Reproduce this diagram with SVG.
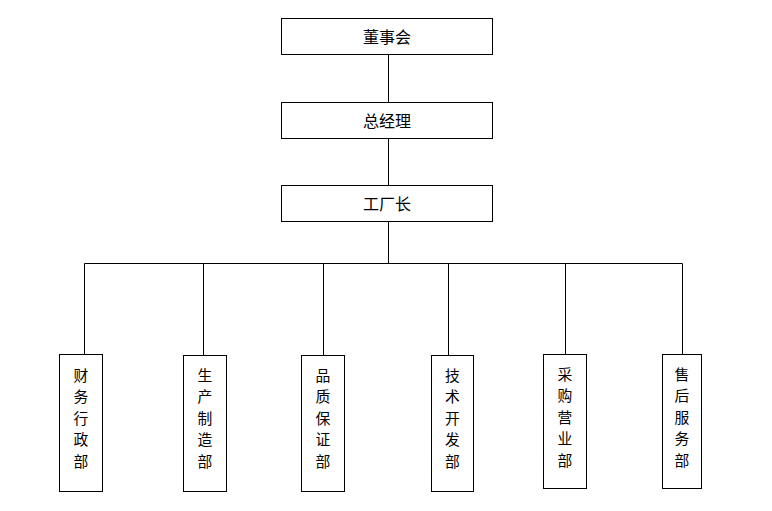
<svg xmlns="http://www.w3.org/2000/svg" width="772" height="511" viewBox="0 0 772 511">
<style>
rect{fill:#fff;stroke:#000;stroke-width:1}
.c line{stroke:#000;stroke-width:1}
text{font-family:"Noto Sans CJK SC","Noto Sans CJK JP",sans-serif;font-size:16px;fill:#000;text-anchor:middle}
text.v{font-size:14.8px}
</style>
<rect x="0" y="0" width="772" height="511" style="stroke:none"/>
<g class="c" id="connectors">
<line x1="388.5" y1="54" x2="388.5" y2="102"/>
<line x1="388.5" y1="138" x2="388.5" y2="185"/>
<line x1="388.5" y1="221" x2="388.5" y2="263.5"/>
<line x1="84.5" y1="263.5" x2="682.5" y2="263.5"/>
<line x1="84.5" y1="263.5" x2="84.5" y2="354"/>
<line x1="203.5" y1="263.5" x2="203.5" y2="355"/>
<line x1="323.5" y1="263.5" x2="323.5" y2="355"/>
<line x1="448.5" y1="263.5" x2="448.5" y2="355"/>
<line x1="565.5" y1="263.5" x2="565.5" y2="354"/>
<line x1="682.5" y1="263.5" x2="682.5" y2="354"/>
</g>
<g id="n1"><rect x="281.5" y="18.5" width="211" height="36"/><text x="387" y="43">董事会</text></g>
<g id="n2"><rect x="281.5" y="102.5" width="211" height="36"/><text x="387" y="127">总经理</text></g>
<g id="n3"><rect x="281.5" y="185.5" width="211" height="36"/><text x="387" y="210">工厂长</text></g>
<g id="d1"><rect x="59.5" y="354.5" width="43" height="137"/><text class="v" x="81"><tspan x="81" y="380.5">财</tspan><tspan x="81" y="402">务</tspan><tspan x="81" y="423.5">行</tspan><tspan x="81" y="445">政</tspan><tspan x="81" y="466.5">部</tspan></text></g>
<g id="d2"><rect x="183.5" y="355.5" width="43" height="136"/><text class="v" x="205"><tspan x="205" y="380.5">生</tspan><tspan x="205" y="402">产</tspan><tspan x="205" y="423.5">制</tspan><tspan x="205" y="445">造</tspan><tspan x="205" y="466.5">部</tspan></text></g>
<g id="d3"><rect x="301.5" y="355.5" width="43" height="136"/><text class="v" x="323"><tspan x="323" y="380.5">品</tspan><tspan x="323" y="402">质</tspan><tspan x="323" y="423.5">保</tspan><tspan x="323" y="445">证</tspan><tspan x="323" y="466.5">部</tspan></text></g>
<g id="d4"><rect x="431.5" y="355.5" width="42" height="136"/><text class="v" x="452.5"><tspan x="452.5" y="380.5">技</tspan><tspan x="452.5" y="402">术</tspan><tspan x="452.5" y="423.5">开</tspan><tspan x="452.5" y="445">发</tspan><tspan x="452.5" y="466.5">部</tspan></text></g>
<g id="d5"><rect x="543.5" y="354.5" width="43" height="134"/><text class="v" x="565"><tspan x="565" y="379.5">采</tspan><tspan x="565" y="401">购</tspan><tspan x="565" y="422.5">营</tspan><tspan x="565" y="444">业</tspan><tspan x="565" y="465.5">部</tspan></text></g>
<g id="d6"><rect x="662.5" y="354.5" width="39" height="134"/><text class="v" x="682"><tspan x="682" y="379.5">售</tspan><tspan x="682" y="401">后</tspan><tspan x="682" y="422.5">服</tspan><tspan x="682" y="444">务</tspan><tspan x="682" y="465.5">部</tspan></text></g>
</svg>
